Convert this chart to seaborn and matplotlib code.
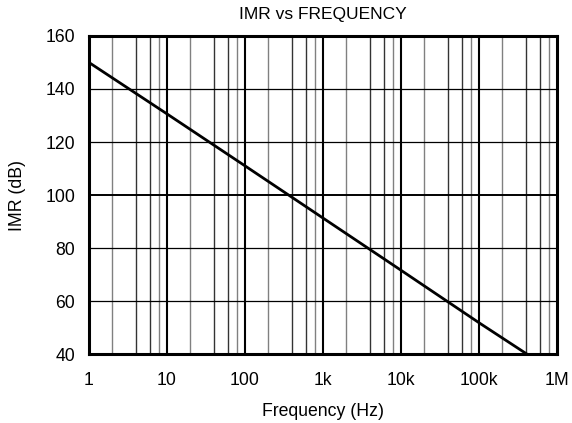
import matplotlib
matplotlib.use("Agg")
import matplotlib.pyplot as plt
import seaborn as sns
import numpy as np
import pandas as pd

freq_hz = [1, 10, 100, 1e3, 1e4, 1e5, 4.1e5]
imr_db = [150, 130.6, 111.0, 91.3, 71.6, 51.8, 40]
x_ticks = [1, 10, 100, 1e3, 1e4, 1e5, 1e6]
x_labels = ["1", "10", "100", "1k", "10k", "100k", "1M"]
y_ticks = [40, 60, 80, 100, 120, 140, 160]

sns.set_style("white")
plt.rcParams['font.family'] = ['Liberation Sans', 'DejaVu Sans']
plt.rcParams['text.color'] = 'black'
plt.rcParams['axes.labelcolor'] = 'black'

df = pd.DataFrame({"f": freq_hz, "imr": imr_db})

fig = plt.figure(figsize=(5.72, 4.23), dpi=100)
ax = fig.add_axes([0.1556, 0.1631, 0.9738 - 0.1556, 0.9149 - 0.1631])
ax.set_xscale("log")
ax.set_xlim(1, 1e6)
ax.set_ylim(40, 160)

# grid lines
for d in range(6):
    base = 10 ** d
    for m in [2, 4, 6, 8]:
        ax.axvline(base * m, color="#333333" if m in (4, 6) else "#808080", lw=1.0, zorder=1)
for t in x_ticks[1:-1]:
    ax.axvline(t, color="black", lw=1.5, zorder=1)
for t in y_ticks[1:-1]:
    ax.axhline(t, color="black", lw=1.4 if t == 100 else 0.9, zorder=1)

sns.lineplot(data=df, x="f", y="imr", ax=ax, color="black", lw=2.0, zorder=3)

ax.set_xticks(x_ticks)
ax.set_xticklabels(x_labels)
ax.set_yticks(y_ticks)
ax.xaxis.set_minor_locator(matplotlib.ticker.NullLocator())
ax.tick_params(axis="both", length=0, labelsize=12.7, colors="black")
ax.tick_params(axis="x", pad=13)
ax.tick_params(axis="y", pad=10)
for s in ax.spines.values():
    s.set_color("black")
    s.set_linewidth(2.2)

ax.set_xlabel("Frequency (Hz)", fontsize=12.7, labelpad=10, color="black")
ax.set_ylabel("IMR (dB)", fontsize=12.7, labelpad=14, color="black")
ax.set_title("IMR vs FREQUENCY", fontsize=12.5, pad=12, color="black")

fig.savefig("out.png", dpi=100)
